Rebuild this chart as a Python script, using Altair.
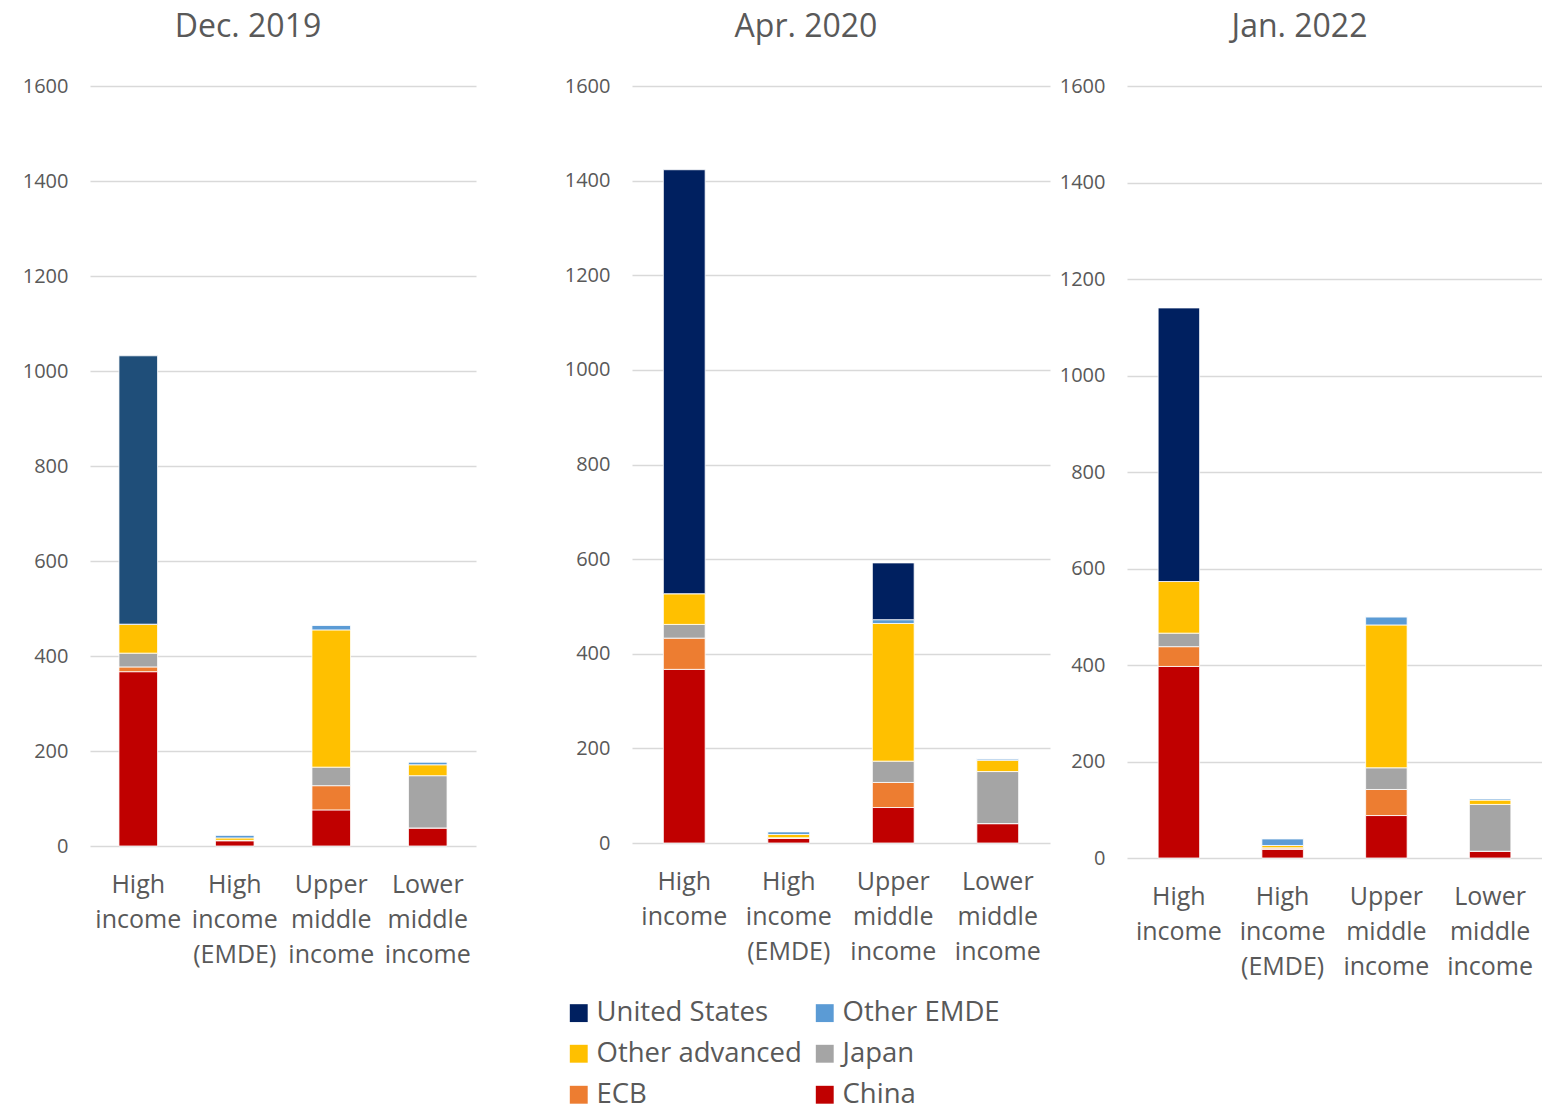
import altair as alt
import pandas as pd

panels = ["Dec. 2019", "Apr. 2020", "Jan. 2022"]
categories = ["High income", "High income (EMDE)", "Upper middle income", "Lower middle income"]
series = ["China", "ECB", "Japan", "Other advanced", "Other EMDE", "United States"]
# legend entries are laid out column by column (3 rows x 2 columns)
legend_order = ["United States", "Other advanced", "ECB", "Other EMDE", "Japan", "China"]
colors = ["#002060", "#FFC000", "#ED7D31", "#5B9BD5", "#A5A5A5", "#C00000"]

# values per panel: rows = categories, columns = series (China, ECB, Japan, Other adv, Other EMDE, US)
dec2019 = [
    [367, 10, 29, 61, 0, 565],
    [11, 1, 0, 5, 6, 0],
    [76, 51, 39, 289, 10, 0],
    [38, 0, 110, 23, 6, 0],
]
apr2020 = [
    [367, 66, 29, 65, 0, 896],
    [10, 1, 0, 7, 6, 0],
    [75, 53, 45, 291, 8, 120],
    [41, 0, 110, 24, 3, 0],
]
jan2022 = [
    [397, 41, 28, 107, 0, 567],
    [18, 3, 0, 5, 14, 0],
    [88, 54, 45, 296, 17, 0],
    [14, 0, 97, 9, 3, 0],
]
panel_values = [dec2019, apr2020, jan2022]

rows = []
for p, vals in zip(panels, panel_values):
    for c, rowvals in zip(categories, vals):
        for i, (s, v) in enumerate(zip(series, rowvals)):
            rows.append({"panel": p, "category": c, "series": s, "order": i, "value": v})
df = pd.DataFrame(rows)

FONT = "Open Sans"
GRAY = "#595959"

color_scale = alt.Scale(domain=legend_order, range=colors)


def panel(name, width, height, special_us=None):
    base = alt.Chart(df[df.panel == name])
    color_field = alt.Color(
        "series:N",
        scale=color_scale,
        sort=legend_order,
        legend=alt.Legend(title=None),
    )
    if special_us:
        color = alt.condition(alt.datum.series == "United States", alt.value(special_us), color_field)
    else:
        color = color_field
    return base.mark_bar(stroke="white", strokeWidth=0.8).encode(
        x=alt.X(
            "category:N",
            sort=categories,
            scale=alt.Scale(paddingInner=0.6, paddingOuter=0.3),
            axis=alt.Axis(
                title=None,
                labelAngle=0,
                labelExpr="split(datum.label, ' ')",
                labelFontSize=25,
                labelLineHeight=35,
                labelFont=FONT,
                labelColor=GRAY,
                labelPadding=26,
                domain=False,
                ticks=False,
                tickSize=0,
                labelBaseline="top",
            ),
        ),
        y=alt.Y(
            "value:Q",
            stack="zero",
            scale=alt.Scale(domain=[0, 1600], nice=False),
            axis=alt.Axis(
                title=None,
                values=list(range(0, 1601, 200)),
                format="d",
                labelFontSize=20,
                labelFont=FONT,
                labelColor=GRAY,
                labelPadding=22,
                domain=False,
                ticks=False,
                tickSize=0,
                gridColor="#D9D9D9",
                gridWidth=1.5,
                minExtent=70,
            ),
        ),
        color=color,
        order=alt.Order("order:Q", sort="ascending"),
        tooltip=["series", "value"],
    ).properties(
        width=width,
        height=height,
        title=alt.TitleParams(
            name,
            fontSize=32,
            font=FONT,
            color=GRAY,
            fontWeight="normal",
            anchor="middle",
            frame="bounds",
            offset=32,
        ),
    )


spacer = alt.Chart(pd.DataFrame({"a": [0]})).mark_point(opacity=0).encode(
    x=alt.X("a:Q", axis=None), y=alt.Y("a:Q", axis=None)
).properties(width=72, height=10)

p1 = panel(panels[0], 386, 760, special_us="#1F4E79")
p2 = panel(panels[1], 418, 757)
p3 = panel(panels[2], 415, 772)

chart = alt.hconcat(p1, spacer, p2, p3, spacing=7).resolve_scale(color="shared").properties(
    padding={"left": 20, "top": 11, "right": 0, "bottom": 0},
    background="white",
).configure_view(stroke=None).configure_legend(
    orient="none",
    legendX=475,
    legendY=913,
    columns=2,
    symbolType="square",
    symbolSize=320,
    symbolStrokeWidth=0,
    labelFontSize=27.5,
    labelFont=FONT,
    labelColor=GRAY,
    labelLimit=400,
    rowPadding=12,
    columnPadding=9,
    symbolOffset=0,
    labelOffset=4,
    padding=0,
)

chart.save("out.html", embed_options={"renderer": "svg", "actions": False})
